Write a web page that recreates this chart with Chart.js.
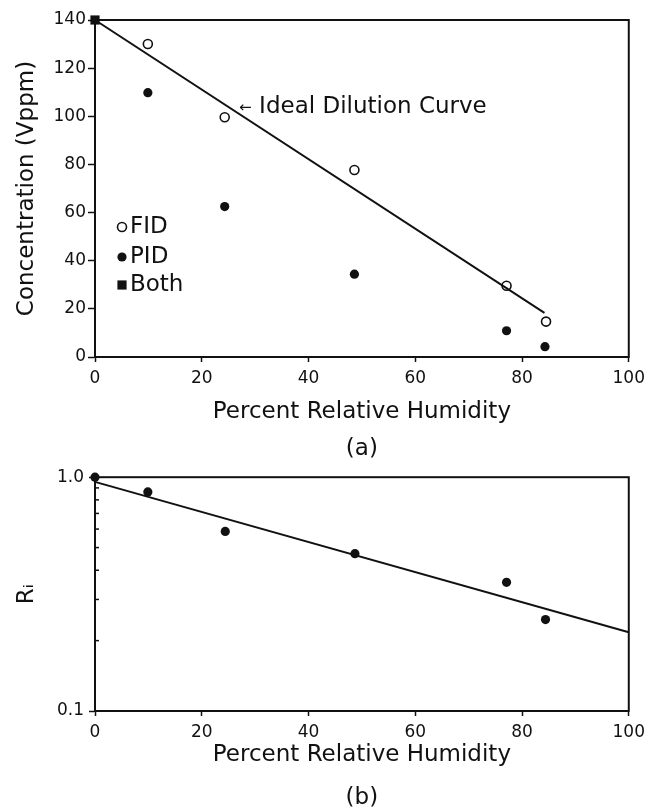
<!DOCTYPE html>
<html><head><meta charset="utf-8">
<script src="https://cdn.jsdelivr.net/npm/chart.js@4"></script>
<style>
html,body{margin:0;padding:0;background:#fff;width:646px;height:812px;overflow:hidden;position:relative;}
#ca{position:absolute;left:0;top:0;}
#cb{position:absolute;left:0;top:462px;}
</style></head><body>
<canvas id="ca" width="651" height="468"></canvas>
<canvas id="cb" width="651" height="360"></canvas>
<script>
// ---------- data: panel (a) ----------
const humidityTicks = [0, 20, 40, 60, 80, 100];
const concTicks = [0, 20, 40, 60, 80, 100, 120, 140];
const fidHumidity = [9.9, 24.3, 48.6, 77.1, 84.5];
const fidConc = [130, 99.6, 77.7, 29.6, 14.7];
const pidHumidity = [9.9, 24.3, 48.6, 77.1, 84.3];
const pidConc = [109.8, 62.5, 34.4, 10.9, 4.3];
const bothHumidity = [0];
const bothConc = [140];
const idealHumidity = [0, 84.2];
const idealConc = [140, 18.3];
const idealLabel = 'Ideal Dilution Curve';
const idealLabelAt = [27, 104];
const seriesNames = ['FID', 'PID', 'Both'];

// ---------- data: panel (b) ----------
const riHumidity = [0, 9.9, 24.4, 48.7, 77.1, 84.4];
const riValues = [1.0, 0.865, 0.586, 0.471, 0.355, 0.246];
const riFitHumidity = [0, 100];
const riFitValues = [0.955, 0.217];
const riTicks = [0.1, 0.2, 0.3, 0.4, 0.5, 0.6, 0.7, 0.8, 0.9, 1.0];
const riTickLabels = ['0.1', '', '', '', '', '', '', '', '', '1.0'];

const FONT = "'DejaVu Sans', sans-serif";
const INK = '#111';
const pts = (xs, ys) => xs.map((x, i) => ({x, y: ys[i]}));

const framePlugin = {
  id: 'frame',
  beforeDatasetsDraw(chart) {
    const {ctx, chartArea: a} = chart;
    ctx.save();
    ctx.strokeStyle = INK; ctx.lineWidth = 2;
    ctx.strokeRect(a.left, a.top, a.right - a.left, a.bottom - a.top);
    ctx.restore();
  }
};

const legendPlugin = {
  id: 'inlegend',
  afterDatasetsDraw(chart) {
    const {ctx, chartArea: a} = chart;
    const rows = [207, 237, 265];
    ctx.save();
    ctx.font = '23px ' + FONT;
    ctx.textBaseline = 'middle';
    seriesNames.forEach((name, i) => {
      const ds = chart.data.datasets.find(d => d.label === name);
      const mx = a.left + 27, my = a.top + rows[i];
      ctx.save();
      ctx.fillStyle = ds.backgroundColor; ctx.strokeStyle = ds.borderColor; ctx.lineWidth = ds.borderWidth;
      ctx.beginPath();
      if (ds.pointStyle === 'rect') {
        const s = ds.pointRadius / Math.SQRT2;
        ctx.rect(mx - s, my - s, 2 * s, 2 * s);
      } else {
        ctx.arc(mx, my, ds.pointRadius, 0, Math.PI * 2);
      }
      ctx.fill(); if (ds.borderWidth) ctx.stroke();
      ctx.restore();
      ctx.fillStyle = INK;
      ctx.fillText(name, mx + 8, my);
    });
    ctx.restore();
  }
};

const annotationPlugin = {
  id: 'annot',
  afterDatasetsDraw(chart) {
    const {ctx, scales: {x, y}} = chart;
    const px = x.getPixelForValue(idealLabelAt[0]);
    const py = y.getPixelForValue(idealLabelAt[1]);
    ctx.save();
    ctx.fillStyle = INK; ctx.textBaseline = 'middle';
    ctx.font = '15px ' + FONT;
    ctx.fillText('\u2190', px, py + 1);
    ctx.font = '23px ' + FONT;
    ctx.fillText(idealLabel, px + 20, py);
    ctx.restore();
  }
};

const minorTickPlugin = {
  id: 'minorTicks',
  afterDraw(chart) {
    const {ctx, scales: {y}} = chart;
    ctx.save();
    ctx.strokeStyle = INK; ctx.lineWidth = 1.5;
    riTicks.forEach((v, i) => {
      if (riTickLabels[i]) return;
      const py = y.getPixelForValue(v);
      ctx.beginPath(); ctx.moveTo(y.right, py); ctx.lineTo(y.right + 4, py); ctx.stroke();
    });
    ctx.restore();
  }
};

function xAxis(titleLines, lineHeight, titlePadBottom) {
  return {
    type: 'linear', min: 0, max: 100,
    afterBuildTicks: s => { s.ticks = humidityTicks.map(v => ({value: v})); },
    afterFit: s => { s.height = 111; },
    ticks: {color: INK, font: {family: FONT, size: 17}, padding: 6, autoSkip: false, maxRotation: 0},
    grid: {drawOnChartArea: false, drawTicks: true, tickLength: 5, tickColor: INK, tickWidth: 1.5},
    border: {display: true, color: INK, width: 2},
    title: {display: true, text: titleLines, color: INK,
            font: {family: FONT, size: 23, lineHeight: lineHeight + 'px'},
            padding: {top: 0, bottom: titlePadBottom}}
  };
}

// ---------- chart (a) ----------
new Chart(document.getElementById('ca'), {
  type: 'scatter',
  data: {
    datasets: [
      {type: 'line', label: 'Ideal', data: pts(idealHumidity, idealConc), borderColor: INK,
       borderWidth: 2, pointRadius: 0, fill: false, clip: false},
      {label: 'FID', data: pts(fidHumidity, fidConc), pointStyle: 'circle', pointRadius: 4.5,
       backgroundColor: '#fff', borderColor: INK, borderWidth: 1.6, clip: false},
      {label: 'PID', data: pts(pidHumidity, pidConc), pointStyle: 'circle', pointRadius: 4.6,
       backgroundColor: INK, borderColor: INK, borderWidth: 0, clip: false},
      {label: 'Both', data: pts(bothHumidity, bothConc), pointStyle: 'rect', pointRadius: 6.5,
       backgroundColor: INK, borderColor: INK, borderWidth: 0, clip: false}
    ]
  },
  options: {
    responsive: false, animation: false, events: [],
    layout: {padding: {left: 0, right: 13, top: 20, bottom: 0}},
    plugins: {legend: {display: false}, tooltip: {enabled: false}},
    scales: {
      x: xAxis(['Percent Relative Humidity', '(a)'], 37.5, 0),
      y: {
        type: 'linear', min: 0, max: 140,
        afterBuildTicks: s => { s.ticks = concTicks.map(v => ({value: v})); },
        afterFit: s => { s.width = 95; },
        ticks: {color: INK, font: {family: FONT, size: 17}, padding: 2, autoSkip: false},
        grid: {drawOnChartArea: false, drawTicks: true, tickLength: 7, tickColor: INK, tickWidth: 1.5},
        border: {display: true, color: INK, width: 2},
        title: {display: true, text: 'Concentration (Vppm)', color: INK,
                font: {family: FONT, size: 23}, padding: {top: 13, bottom: 0}}
      }
    }
  },
  plugins: [framePlugin, legendPlugin, annotationPlugin]
});

// ---------- chart (b) ----------
new Chart(document.getElementById('cb'), {
  type: 'scatter',
  data: {
    datasets: [
      {type: 'line', label: 'Fit', data: pts(riFitHumidity, riFitValues), borderColor: INK,
       borderWidth: 2, pointRadius: 0, fill: false, clip: false},
      {label: 'Ri', data: pts(riHumidity, riValues), pointStyle: 'circle', pointRadius: 4.6,
       backgroundColor: INK, borderColor: INK, borderWidth: 0, clip: false}
    ]
  },
  options: {
    responsive: false, animation: false, events: [],
    layout: {padding: {left: 0, right: 13, top: 11, bottom: 0}},
    plugins: {legend: {display: false}, tooltip: {enabled: false}},
    scales: {
      x: xAxis(['Percent Relative Humidity', '(b)'], 43, 2.5),
      y: {
        type: 'logarithmic', min: 0.1, max: 1.0,
        afterBuildTicks: s => { s.ticks = riTicks.map(v => ({value: v})); },
        afterFit: s => { s.width = 95; },
        ticks: {color: INK, font: {family: FONT, size: 17}, padding: 5, autoSkip: false,
                callback: (v, i) => riTickLabels[i]},
        grid: {drawOnChartArea: false, drawTicks: true, tickLength: 6, tickWidth: 1.5,
               tickColor: c => (c.tick && riTickLabels[riTicks.indexOf(c.tick.value)]) ? INK : 'rgba(0,0,0,0)'},
        border: {display: true, color: INK, width: 2},
        title: {display: true, text: 'R\u1D62', color: INK,
                font: {family: FONT, size: 23}, padding: {top: 13, bottom: 0}}
      }
    }
  },
  plugins: [framePlugin, minorTickPlugin]
});
</script>
</body></html>
